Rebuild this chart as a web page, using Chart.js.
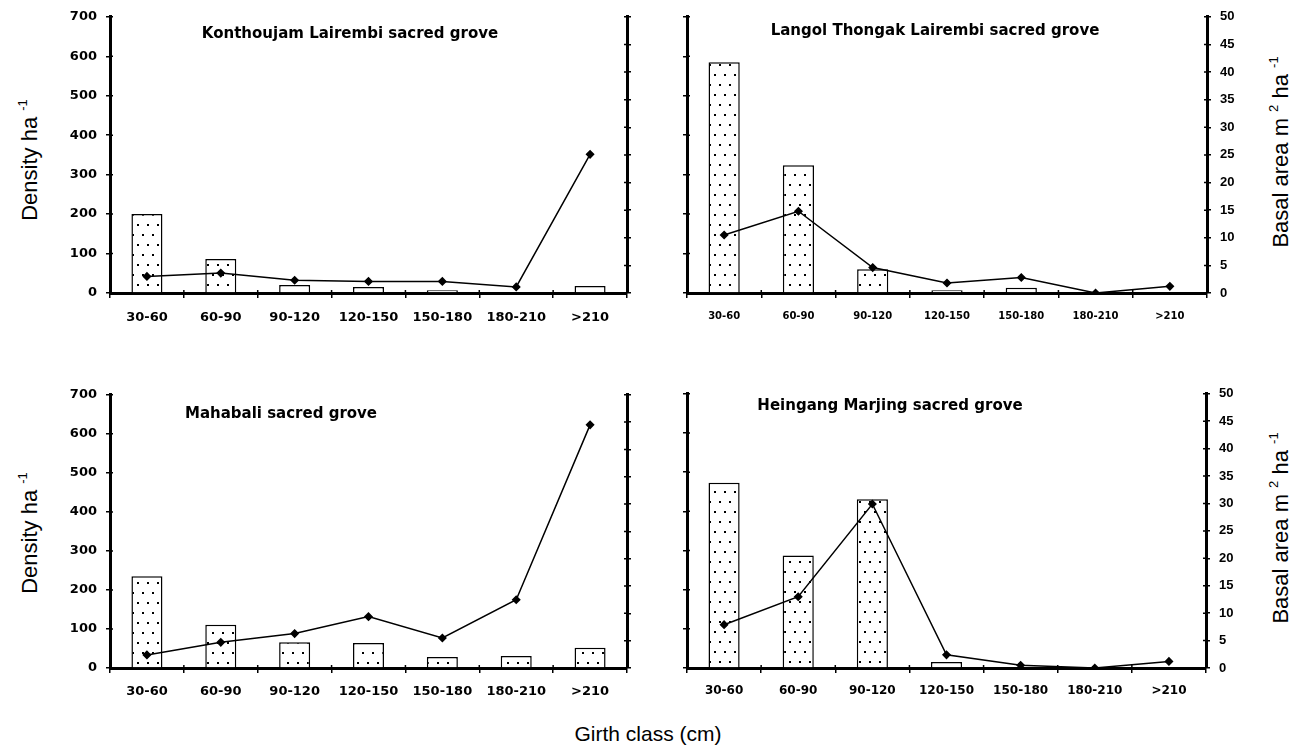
<!DOCTYPE html>
<html>
<head>
<meta charset="utf-8">
<title>Density and basal area by girth class</title>
<script src="https://cdn.jsdelivr.net/npm/chart.js@4.4.1/dist/chart.umd.min.js"></script>
<style>
  html, body { margin: 0; padding: 0; background: #fff; }
  body { width: 1297px; height: 749px; position: relative; overflow: hidden; font-family: Arial, 'Liberation Sans', sans-serif; color: #000; }
  canvas { position: absolute; }
  .grove { position: absolute; font: bold 15px 'DejaVu Sans', sans-serif; white-space: nowrap; transform: translate(-50%, -50%); }
  .ytitle { position: absolute; font-size: 22px; white-space: nowrap; transform: translate(-50%, -50%) rotate(-90deg); }
  .ytitle sup { font-size: 13px; vertical-align: 10px; }
  .xtitle { position: absolute; font-size: 21px; white-space: nowrap; transform: translate(-50%, -50%); }
</style>
</head>
<body>
<canvas id="c1"></canvas>
<canvas id="c2"></canvas>
<canvas id="c3"></canvas>
<canvas id="c4"></canvas>

<div class="grove" style="left:350px; top:33px;">Konthoujam Lairembi sacred grove</div>
<div class="grove" style="left:935px; top:30px;">Langol Thongak Lairembi sacred grove</div>
<div class="grove" style="left:281px; top:413px;">Mahabali sacred grove</div>
<div class="grove" style="left:890px; top:405px;">Heingang Marjing sacred grove</div>

<div class="ytitle" style="left:29px; top:160px;">Density ha <sup>-1</sup></div>
<div class="ytitle" style="left:29px; top:533px;">Density ha <sup>-1</sup></div>
<div class="ytitle" style="left:1280px; top:152px;">Basal area m <sup>2</sup> ha <sup>-1</sup></div>
<div class="ytitle" style="left:1280px; top:528px;">Basal area m <sup>2</sup> ha <sup>-1</sup></div>
<div class="xtitle" style="left:648px; top:734px;">Girth class (cm)</div>

<script>
// girth classes shared by all four groves
const girthClasses = ['30-60', '60-90', '90-120', '120-150', '150-180', '180-210', '>210'];

// axis ranges: [min, max, step]
const densityRange = [0, 700, 100];
const basalRange = [0, 50, 5];

// stems per hectare (bars)
const konthoujamDensity = [200, 86, 20, 15, 7, 2, 18];
const langolDensity = [585, 324, 60, 7, 13, 0, 2];
const mahabaliDensity = [235, 111, 66, 64, 28, 31, 52];
const heingangDensity = [473, 287, 431, 15, 2, 0, 0];

// basal area m2 per hectare (line)
const konthoujamBasal = [3.0, 3.6, 2.3, 2.1, 2.1, 1.1, 25.1];
const langolBasal = [10.5, 14.8, 4.6, 1.8, 2.8, 0, 1.2];
const mahabaliBasal = [2.4, 4.7, 6.3, 9.4, 5.5, 12.5, 44.5];
const heingangBasal = [7.9, 13.0, 29.9, 2.4, 0.5, 0, 1.2];

const boldTicks = (size, family) => ({ family: family || "'DejaVu Sans', sans-serif", size: size, weight: 'bold' });

// dotted fill used for the density bars
function dotPattern() {
    const tile = document.createElement('canvas');
    tile.width = 10;
    tile.height = 20;
    const g = tile.getContext('2d');
    g.fillStyle = '#fff';
    g.fillRect(0, 0, 10, 20);
    g.fillStyle = '#000';
    g.fillRect(2, 4, 2, 2);
    g.fillRect(7, 14, 2, 2);
    return g.createPattern(tile, 'repeat');
}

// short tick marks on the inner side of every axis
const innerTicks = {
    id: 'innerTicks',
    afterDraw(chart) {
        const { ctx, chartArea: a, scales } = chart;
        ctx.save();
        ctx.strokeStyle = '#000';
        ctx.lineWidth = 1.5;
        ctx.beginPath();
        scales.y.ticks.forEach(t => {
            const py = scales.y.getPixelForValue(t.value);
            ctx.moveTo(a.left, py);
            ctx.lineTo(a.left + 3, py);
        });
        scales.y1.ticks.forEach(t => {
            const py = scales.y1.getPixelForValue(t.value);
            ctx.moveTo(a.right - 3, py);
            ctx.lineTo(a.right, py);
        });
        const n = scales.x.ticks.length;
        for (let i = 0; i <= n; i++) {
            const px = a.left + (a.right - a.left) * i / n;
            ctx.moveTo(px, a.bottom);
            ctx.lineTo(px, a.bottom - 3);
        }
        ctx.stroke();
        ctx.restore();
    }
};

function drawGrove(id, density, basal, o) {
    const [l, t, r, b] = o.area;
    const padTop = 15, bottomH = 40;
    const leftW = o.side === 'left' ? 55 : 10;
    const rightW = o.side === 'left' ? 10 : 45;

    const canvas = document.getElementById(id);
    canvas.width = leftW + (r - l) + rightW;
    canvas.height = padTop + (b - t) + bottomH;
    canvas.style.left = (l - leftW) + 'px';
    canvas.style.top = (t - padTop) + 'px';

    const axisLine = { display: true, color: '#000', width: 3 };
    const tickGrid = { drawOnChartArea: false, drawTicks: true, tickLength: 4, color: '#000', lineWidth: 1.5 };

    new Chart(canvas.getContext('2d'), {
        data: {
            labels: girthClasses,
            datasets: [
                {
                    type: 'line',
                    label: 'Basal area',
                    data: basal,
                    yAxisID: 'y1',
                    borderColor: '#000',
                    borderWidth: 1.5,
                    pointStyle: 'rectRot',
                    pointRadius: 3.5,
                    pointBackgroundColor: '#000',
                    pointBorderColor: '#000',
                    tension: 0,
                    order: 0
                },
                {
                    type: 'bar',
                    label: 'Density',
                    data: density,
                    yAxisID: 'y',
                    backgroundColor: dotPattern(),
                    borderColor: '#000',
                    borderWidth: 1.5,
                    barPercentage: 0.42,
                    categoryPercentage: 1,
                    order: 1
                }
            ]
        },
        options: {
            responsive: false,
            animation: false,
            layout: { padding: { top: padTop, left: 0, right: 0, bottom: 0 } },
            plugins: { legend: { display: false }, tooltip: { enabled: false } },
            scales: {
                x: {
                    border: axisLine,
                    grid: { ...tickGrid, tickLength: 5 },
                    ticks: { color: '#000', font: boldTicks(o.xFont, o.xFamily), padding: o.xPad, maxRotation: 0, autoSkip: false },
                    afterFit: s => { s.height = bottomH; }
                },
                y: {
                    position: 'left',
                    min: densityRange[0], max: densityRange[1],
                    border: axisLine,
                    grid: tickGrid,
                    ticks: { stepSize: densityRange[2], display: o.side === 'left', color: '#000', font: boldTicks(13), padding: 9 },
                    afterFit: s => { s.width = leftW; }
                },
                y1: {
                    position: 'right',
                    min: basalRange[0], max: basalRange[1],
                    border: axisLine,
                    grid: tickGrid,
                    ticks: { stepSize: basalRange[2], display: o.side === 'right', color: '#000', font: boldTicks(13, "'Liberation Sans', Arial, sans-serif"), padding: 9 },
                    afterFit: s => { s.width = rightW; }
                }
            }
        },
        plugins: [innerTicks]
    });
}

drawGrove('c1', konthoujamDensity, konthoujamBasal, { area: [110, 15, 627, 293], side: 'left', xFont: 13, xPad: 12 });
drawGrove('c2', langolDensity, langolBasal, { area: [687, 15, 1207, 293], side: 'right', xFont: 10, xPad: 12 });
drawGrove('c3', mahabaliDensity, mahabaliBasal, { area: [110, 393, 627, 668], side: 'left', xFont: 13, xPad: 11 });
drawGrove('c4', heingangDensity, heingangBasal, { area: [687, 392, 1206, 668], side: 'right', xFont: 12, xPad: 11 });
</script>
</body>
</html>
